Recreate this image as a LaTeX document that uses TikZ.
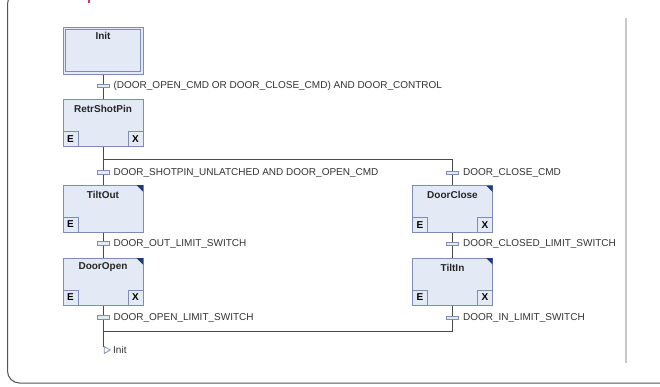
\documentclass[tikz,border=0pt]{standalone}
\usepackage{fontspec}
\setmainfont{Liberation Sans}
\usetikzlibrary{calc}

\definecolor{stepfill}{HTML}{E3EAF6}
\definecolor{stepedge}{HTML}{7E8DB6}
\definecolor{wire}{HTML}{4A4A4A}
\definecolor{labeltext}{HTML}{333333}
\definecolor{cornermark}{HTML}{1F3A78}
\definecolor{panelrule}{HTML}{C9C9C9}
\definecolor{framerule}{HTML}{555555}
\definecolor{titlered}{HTML}{E0306A}

\begin{document}
\begin{tikzpicture}[x=1pt,y=-1pt,
  font=\fontsize{10}{12}\selectfont,
  stepbox/.style={draw=stepedge, fill=stepfill, line width=1pt,
    minimum width=80pt, minimum height=47pt, inner sep=0pt},
  steptitle/.style={font=\bfseries\fontsize{10}{12}\selectfont, text=black!85, inner sep=0pt},
  actionflag/.style={draw=stepedge, fill=stepfill, line width=1pt,
    minimum width=15pt, minimum height=15pt, inner sep=0pt,
    font=\bfseries\fontsize{10}{12}\selectfont},
  transbar/.style={draw=stepedge, fill=stepfill, line width=0.8pt,
    minimum width=12pt, minimum height=3.5pt, inner sep=0pt},
  translabel/.style={anchor=west, text=labeltext, inner sep=0pt},
  wireline/.style={draw=wire, line width=0.9pt},
  cornertag/.style={fill=cornermark}
]
\useasboundingbox (0,0) rectangle (660,386);
\clip (0,0) rectangle (660,386);

% surrounding panel and its divider
\draw[framerule, line width=1pt, rounded corners=12pt] (7.5,-8) rectangle (720,383);
\draw[panelrule, line width=1.2pt] (626,18) -- (626,363);
\draw[titlered, line width=1.3pt] (89,-1) -- (89,2.5);

% steps
\node[stepbox] (init) at (103,50.5) {};
\draw[stepedge, line width=0.8pt]
  ([shift={(2.8pt,-2.8pt)}]init.north west) rectangle ([shift={(-2.8pt,2.8pt)}]init.south east);
\node[stepbox] (rsp) at (103,123) {};
\node[stepbox] (tiltout) at (103,208.5) {};
\node[stepbox] (dooropen) at (103,281.5) {};
\node[stepbox] (doorclose) at (452.5,209) {};
\node[stepbox] (tiltin) at (452.5,281.5) {};

% step titles
\node[steptitle] (init-t) at ([yshift=-9.5pt]init.north) {Init};
\node[steptitle] (rsp-t) at ([yshift=-10pt]rsp.north) {RetrShotPin};
\node[steptitle] (tiltout-t) at ([yshift=-10pt]tiltout.north) {TiltOut};
\node[steptitle] (dooropen-t) at ([yshift=-10pt]dooropen.north) {DoorOpen};
\node[steptitle] (doorclose-t) at ([yshift=-10pt]doorclose.north) {DoorClose};
\node[steptitle] (tiltin-t) at ([yshift=-10pt]tiltin.north) {TiltIn};

% entry / exit action flags
\node[actionflag, anchor=south west] (rsp-e) at (rsp.south west) {E};
\node[actionflag, anchor=south east] (rsp-x) at (rsp.south east) {X};
\node[actionflag, anchor=south west] (tiltout-e) at (tiltout.south west) {E};
\node[actionflag, anchor=south west] (dooropen-e) at (dooropen.south west) {E};
\node[actionflag, anchor=south east] (dooropen-x) at (dooropen.south east) {X};
\node[actionflag, anchor=south west] (doorclose-e) at (doorclose.south west) {E};
\node[actionflag, anchor=south east] (doorclose-x) at (doorclose.south east) {X};
\node[actionflag, anchor=south west] (tiltin-e) at (tiltin.south west) {E};
\node[actionflag, anchor=south east] (tiltin-x) at (tiltin.south east) {X};

% corner tags on steps with actions
\foreach \s in {tiltout,dooropen,doorclose,tiltin}{
  \fill[cornertag] ([shift={(-0.5pt,-0.5pt)}]\s.north east) -- ++(-6.5pt,0) -- ++(6.5pt,-6.5pt) -- cycle;
}

% branch / merge points
\coordinate (split-l) at (103,159);
\coordinate (split-r) at (452.5,159);
\coordinate (merge-l) at (103,331);
\coordinate (merge-r) at (452.5,331);
\coordinate (jumpstem) at (103,347);

% connectors
\draw[wireline] (init.south) -- (rsp.north);
\draw[wireline] (rsp.south) -- (tiltout.north);
\draw[wireline] (split-l) -- (split-r) -- (doorclose.north);
\draw[wireline] (tiltout.south) -- (dooropen.north);
\draw[wireline] (doorclose.south) -- (tiltin.north);
\draw[wireline] (dooropen.south) -- (jumpstem);
\draw[wireline] (tiltin.south) -- (merge-r) -- (merge-l);

% jump target
\draw[stepedge, fill=white, line width=0.8pt]
  ([shift={(1.2pt,0.5pt)}]jumpstem) -- ++(6pt,-3.5pt) -- ++(-6pt,-3.5pt) -- cycle;
\node[translabel] (jump-l) at (113,350) {Init};

% transitions
\node[transbar] (t1) at (103,86) {};
\node[transbar] (t2) at (103,172.5) {};
\node[transbar] (t3) at (452.5,173) {};
\node[transbar] (t4) at (103,243.5) {};
\node[transbar] (t5) at (452.5,244) {};
\node[transbar] (t6) at (103,317.5) {};
\node[transbar] (t7) at (452.5,318) {};

\node[translabel] (t1-l) at ([xshift=4pt]t1.east) {(DOOR\_OPEN\_CMD OR DOOR\_CLOSE\_CMD) AND DOOR\_CONTROL};
\node[translabel] (t2-l) at ([xshift=4pt]t2.east) {DOOR\_SHOTPIN\_UNLATCHED AND DOOR\_OPEN\_CMD};
\node[translabel] (t3-l) at ([xshift=4pt]t3.east) {DOOR\_CLOSE\_CMD};
\node[translabel] (t4-l) at ([xshift=4pt]t4.east) {DOOR\_OUT\_LIMIT\_SWITCH};
\node[translabel] (t5-l) at ([xshift=4pt]t5.east) {DOOR\_CLOSED\_LIMIT\_SWITCH};
\node[translabel] (t6-l) at ([xshift=4pt]t6.east) {DOOR\_OPEN\_LIMIT\_SWITCH};
\node[translabel] (t7-l) at ([xshift=4pt]t7.east) {DOOR\_IN\_LIMIT\_SWITCH};
\end{tikzpicture}
\end{document}
